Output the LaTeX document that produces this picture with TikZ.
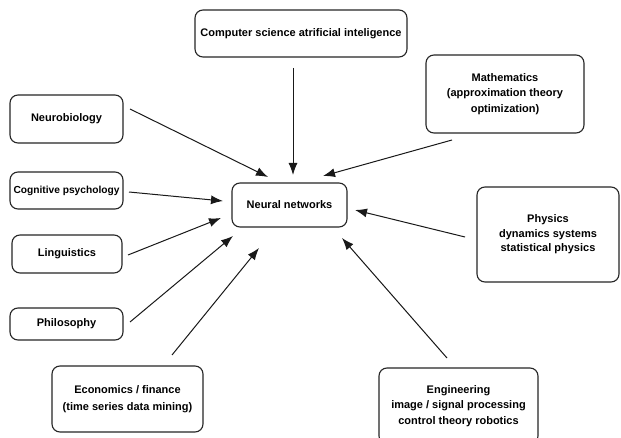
\documentclass[tikz,border=0pt]{standalone}
\usepackage{fontspec}
\setmainfont{Liberation Sans}
\usetikzlibrary{arrows.meta}
\begin{document}
\begin{tikzpicture}[x=1pt,y=-1pt,
  box/.style={draw=black!85,line width=1.1pt,rounded corners=8pt,align=center,
    font=\bfseries\fontsize{11}{15.5}\selectfont,inner sep=0pt},
  arr/.style={draw=black!90,line width=1pt,-{Latex[length=12pt,width=9pt]}}]
\useasboundingbox (0,0) rectangle (621,438);
\fill[white] (0,0) rectangle (621,438);
\node[box,minimum width=212pt,minimum height=47pt] (cs) at (301,33.5) {Computer science atrificial inteligence};
\node[box,minimum width=158pt,minimum height=78pt] (math) at (505,94) {Mathematics\\(approximation theory\\optimization)};
\node[box,minimum width=113pt,minimum height=48pt] (neuro) at (66.5,119) {Neurobiology};
\node[box,minimum width=113pt,minimum height=37pt,font=\bfseries\fontsize{10.2}{14}\selectfont] (cog) at (66.5,190.5) {Cognitive psychology};
\node[box,minimum width=110pt,minimum height=38pt] (ling) at (67,254) {Linguistics};
\node[box,minimum width=113pt,minimum height=32pt] (philo) at (66.5,324) {Philosophy};
\node[box,minimum width=115pt,minimum height=44pt] (nn) at (289.5,205) {Neural networks};
\node[box,minimum width=142pt,minimum height=95pt,font=\bfseries\fontsize{11}{14.5}\selectfont] (phys) at (548,234.5) {Physics\\dynamics systems\\statistical physics};
\node[box,minimum width=151pt,minimum height=66pt,font=\bfseries\fontsize{11}{17}\selectfont] (econ) at (127.5,399) {Economics / finance\\(time series data mining)};
\node[box,minimum width=159pt,minimum height=76pt] (eng) at (458.5,406) {Engineering\\image / signal processing\\control theory robotics};
% connector ends
\coordinate (csT) at (293,68);   \coordinate (csH) at (293,175);
\coordinate (neT) at (130,109);  \coordinate (neH) at (268,177);
\coordinate (maT) at (452,140);  \coordinate (maH) at (323,176);
\coordinate (coT) at (129,192);  \coordinate (coH) at (223,201);
\coordinate (liT) at (128,255);  \coordinate (liH) at (221,218);
\coordinate (phT) at (130,322);  \coordinate (phH) at (233,236);
\coordinate (ecT) at (172,355);  \coordinate (ecH) at (259,248);
\coordinate (enT) at (447,358);  \coordinate (enH) at (342,238);
\coordinate (pyT) at (465,237);  \coordinate (pyH) at (355,210);
\draw[arr] (csT) -- (csH);
\draw[arr] (neT) -- (neH);
\draw[arr] (maT) -- (maH);
\draw[arr] (coT) -- (coH);
\draw[arr] (liT) -- (liH);
\draw[arr] (phT) -- (phH);
\draw[arr] (ecT) -- (ecH);
\draw[arr] (enT) -- (enH);
\draw[arr] (pyT) -- (pyH);
\end{tikzpicture}
\end{document}
